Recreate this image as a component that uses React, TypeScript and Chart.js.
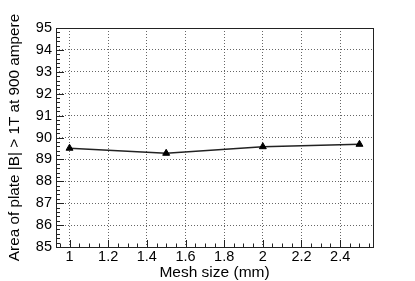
import React, { useEffect, useRef } from "react";
import { Chart, registerables } from "chart.js";

Chart.register(...registerables);

const meshSizes = [1, 1.5, 2, 2.5];
const areaValues = [89.51, 89.28, 89.58, 89.69];
const xTickValues = [1, 1.2, 1.4, 1.6, 1.8, 2, 2.2, 2.4];
const yTickValues = [85, 86, 87, 88, 89, 90, 91, 92, 93, 94, 95];
const xRange = [0.93, 2.57];
const yRange = [85, 95];
const xTitle = "Mesh size (mm)";
const yTitle = "Area of plate |B| > 1T at 900 ampere";

const FONT = "'Liberation Sans', Arial, Helvetica, sans-serif";

const rootFramePlugin = {
  id: "rootFrame",
  afterDatasetsDraw(chart: any) {
    const { ctx, chartArea } = chart;
    const xs = chart.scales.x;
    const ys = chart.scales.y;
    const { left, right, top, bottom } = chartArea;
    ctx.save();
    ctx.strokeStyle = "#222";
    ctx.lineWidth = 1;
    ctx.beginPath();
    for (let i = 0; i <= Math.round((yRange[1] - yRange[0]) / 0.2); i++) {
      const v = yRange[0] + i * 0.2;
      const major = i % 5 === 0;
      const py = Math.round(ys.getPixelForValue(v)) + 0.5;
      ctx.moveTo(left, py);
      ctx.lineTo(left + (major ? 8 : 4), py);
    }
    for (let i = 0; i * 0.05 <= xRange[1] + 1e-9; i++) {
      const v = i * 0.05;
      if (v < xRange[0] - 1e-9) continue;
      const major = i % 4 === 0;
      const px = Math.round(xs.getPixelForValue(v)) + 0.5;
      ctx.moveTo(px, bottom);
      ctx.lineTo(px, bottom - (major ? 7 : 3.5));
    }
    ctx.stroke();
    ctx.strokeRect(Math.round(left) + 0.5, Math.round(top) + 0.5, Math.round(right - left), Math.round(bottom - top));
    ctx.restore();
  },
};

export default function App() {
  const canvasRef = useRef<HTMLCanvasElement | null>(null);

  useEffect(() => {
    document.body.style.margin = "0";
    const canvas = canvasRef.current;
    if (!canvas) return;
    const chart = new Chart(canvas, {
      type: "line",
      data: {
        datasets: [
          {
            data: meshSizes.map((x, i) => ({ x, y: areaValues[i] })),
            borderColor: "#222",
            borderWidth: 1.5,
            pointStyle: "triangle",
            pointRadius: 4,
            pointBackgroundColor: "#000",
            pointBorderColor: "#000",
            pointBorderWidth: 1,
            tension: 0,
            fill: false,
          },
        ],
      },
      options: {
        responsive: false,
        animation: false,
        events: [],
        layout: { padding: { left: 0, top: 28, right: 42, bottom: 0 } },
        plugins: {
          legend: { display: false },
          tooltip: { enabled: false },
          title: { display: false },
        },
        scales: {
          x: {
            type: "linear",
            min: xRange[0],
            max: xRange[1],
            afterBuildTicks: (scale: any) => {
              scale.ticks = xTickValues.map((v) => ({ value: v }));
            },
            afterFit: (scale: any) => {
              scale.height = 34;
            },
            grid: {
              color: "rgba(0,0,0,0.6)",
              lineWidth: 1,
              drawTicks: false,
            },
            border: { display: false, dash: [1, 2] },
            ticks: {
              padding: 1,
              color: "#000",
              maxRotation: 0,
              autoSkip: false,
              font: { family: FONT, size: 14.5 },
              callback: (v: any) => String(Math.round(Number(v) * 10) / 10),
            },
            title: {
              display: true,
              text: xTitle,
              color: "#000",
              font: { family: FONT, size: 15.5, lineHeight: 1 },
              padding: { top: 0, bottom: 0.5 },
            },
          },
          y: {
            type: "linear",
            min: yRange[0],
            max: yRange[1],
            afterBuildTicks: (scale: any) => {
              scale.ticks = yTickValues.map((v) => ({ value: v }));
            },
            afterFit: (scale: any) => {
              scale.width = 56;
            },
            grid: {
              color: "rgba(0,0,0,0.6)",
              lineWidth: 1,
              drawTicks: false,
            },
            border: { display: false, dash: [1, 2] },
            ticks: {
              padding: 4,
              color: "#000",
              autoSkip: false,
              font: { family: FONT, size: 14.5 },
              callback: (v: any) => String(v),
            },
            title: {
              display: true,
              text: yTitle,
              color: "#000",
              font: { family: FONT, size: 15.3 },
              padding: { top: 6, bottom: 0 },
            },
          },
        },
      },
      plugins: [rootFramePlugin],
    } as any);
    return () => chart.destroy();
  }, []);

  return (
    <div style={{ position: "absolute", left: 0, top: 0, width: 415, height: 281 }}>
      <canvas ref={canvasRef} width={415} height={281} />
    </div>
  );
}
